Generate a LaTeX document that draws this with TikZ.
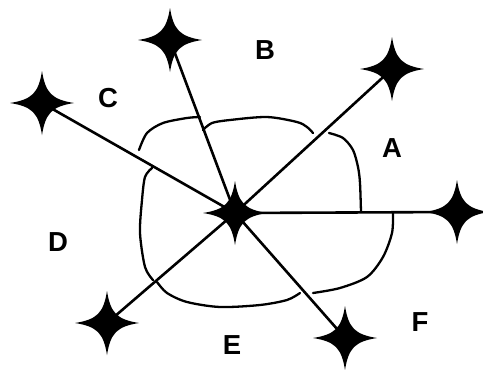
\documentclass[tikz,border=0pt]{standalone}
\usepackage{fontspec}
\setmainfont{Liberation Sans}
\usetikzlibrary{positioning}
\tikzset{
  spoke line/.style={line width=2.6pt, color=black},
  zone arc/.style={line width=2.3pt, color=black, line cap=round, line join=round},
  zone label/.style={font=\bfseries\fontsize{27.5}{27.5}\selectfont, inner sep=0pt},
  pics/four star/.style={code={
    \fill[black] (32,0) .. controls (10,3.5) and (3.5,10) .. (0,32)
      .. controls (-3.5,10) and (-10,3.5) .. (-32,0)
      .. controls (-10,-3.5) and (-3.5,-10) .. (0,-32)
      .. controls (3.5,-10) and (10,-3.5) .. cycle;
  }},
}

\begin{document}
\begin{tikzpicture}[x=1pt, y=-1pt]
\useasboundingbox (0,0) rectangle (483,370);

% --- STAR POSITIONS ---
\coordinate (hub) at (235,213);
\foreach \sidx/\sx/\sy in {1/170/40, 2/392/69, 3/42/103, 4/457/212, 5/107/323, 6/345/338} {
  \coordinate (s\sidx) at (\sx,\sy);
}

% --- SPOKES ---
\foreach \sidx in {1,...,6} {
  \draw[spoke line] (hub) -- (s\sidx);
}

% --- ARCS AROUND HUB ---
\draw[zone arc] plot[smooth] coordinates {(139,150) (147,133) (163,123) (187,118) (200,117)};
\draw[zone arc] plot[smooth] coordinates {(203,130) (212,123) (230,120) (267,117) (297,122) (307,127) (313,133)};
\draw[zone arc] plot[smooth] coordinates {(329,133) (343,138) (353,150) (358,167) (360,183) (361,212)};
\draw[zone arc] plot[smooth] coordinates {(393,213) (392,233) (383,257) (367,277) (340,288) (313,293)};
\draw[zone arc] plot[smooth] coordinates {(300,293) (287,300) (260,305) (220,307) (187,302) (167,293) (157,282)};
\draw[zone arc] plot[smooth] coordinates {(153,280) (145,267) (140,233) (142,200) (145,177) (152,168)};

% --- STARS ---
\foreach \pt in {hub,s1,s2,s3,s4,s5,s6} {
  \pic at (\pt) {four star};
}

% --- ZONE LABELS ---
\node[zone label] (lblA) at (392,148) {A};
\node[zone label] (lblB) at (265,50) {B};
\node[zone label] (lblC) at (108,98) {C};
\node[zone label] (lblD) at (58,242) {D};
\node[zone label] (lblE) at (232,345) {E};
\node[zone label] (lblF) at (420,322) {F};

\end{tikzpicture}
\end{document}
